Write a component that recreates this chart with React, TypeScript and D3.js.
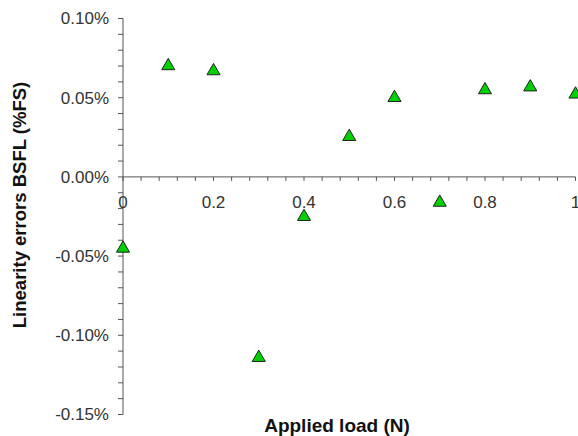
import React from "react";
import * as d3 from "d3";

const loads = [0, 0.1, 0.2, 0.3, 0.4, 0.5, 0.6, 0.7, 0.8, 0.9, 1.0];
const errors = [-0.0445, 0.0707, 0.0675, -0.1135, -0.0245, 0.026, 0.0506, -0.0155, 0.0555, 0.0573, 0.0528];
const xTicks = [0, 0.2, 0.4, 0.6, 0.8, 1];
const xTickLabels = ["0", "0.2", "0.4", "0.6", "0.8", "1"];
const yTicks = [0.1, 0.05, 0, -0.05, -0.1, -0.15];
const yTickLabels = ["0.10%", "0.05%", "0.00%", "-0.05%", "-0.10%", "-0.15%"];
const xLabel = "Applied load (N)";
const yLabel = "Linearity errors BSFL (%FS)";

export default function App() {
  const W = 578, H = 436;
  const x = d3.scaleLinear().domain([0, 1]).range([123, 575.5]);
  const y = d3.scaleLinear().domain([-0.15, 0.1]).range([414.5, 18.5]);
  const xMinor = d3.range(0, 1.0001, 0.04);
  const yMinor = d3.range(-0.15, 0.1001, 0.01);
  const tri = d3.symbol().type(d3.symbolTriangle).size(74)();
  const axisColor = "#555";
  const font = "Arial, 'Liberation Sans', sans-serif";
  return (
    <svg width={W} height={H} style={{ position: "absolute", left: 0, top: 0, background: "#fff" }}>
      {/* y axis */}
      <line x1={x(0)} x2={x(0)} y1={y(0.1)} y2={y(-0.15)} stroke={axisColor} strokeWidth={1} />
      {yMinor.map((v, i) => (
        <line key={"ym" + i} x1={x(0) - 5} x2={x(0)} y1={y(v)} y2={y(v)} stroke={axisColor} strokeWidth={1} />
      ))}
      {yTicks.map((v, i) => (
        <text key={"yt" + i} x={109} y={y(v)} dy="0.35em" textAnchor="end" fontFamily={font} fontSize={17} fill="#333">
          {yTickLabels[i]}
        </text>
      ))}
      {/* x axis */}
      <line x1={x(0)} x2={x(1)} y1={y(0)} y2={y(0)} stroke={axisColor} strokeWidth={1} />
      {xMinor.map((v, i) => (
        <line key={"xm" + i} x1={x(v)} x2={x(v)} y1={y(0)} y2={y(0) + 4} stroke={axisColor} strokeWidth={1} />
      ))}
      {xTicks.map((v, i) => (
        <text key={"xt" + i} x={x(v)} y={202} dy="0.35em" textAnchor="middle" fontFamily={font} fontSize={17} fill="#333">
          {xTickLabels[i]}
        </text>
      ))}
      {/* titles */}
      <text x={337} y={425} dy="0.35em" textAnchor="middle" fontFamily={font} fontWeight="bold" fontSize={19} fill="#111">
        {xLabel}
      </text>
      <text transform={`translate(20,205) rotate(-90)`} dy="0.35em" textAnchor="middle" fontFamily={font} fontWeight="bold" fontSize={18.5} fill="#111">
        {yLabel}
      </text>
      {/* points */}
      {loads.map((l, i) => (
        <path key={"p" + i} d={tri!} transform={`translate(${x(l)},${y(errors[i]) + 1})`} fill="#00d000" stroke="#222" strokeWidth={1} />
      ))}
    </svg>
  );
}
